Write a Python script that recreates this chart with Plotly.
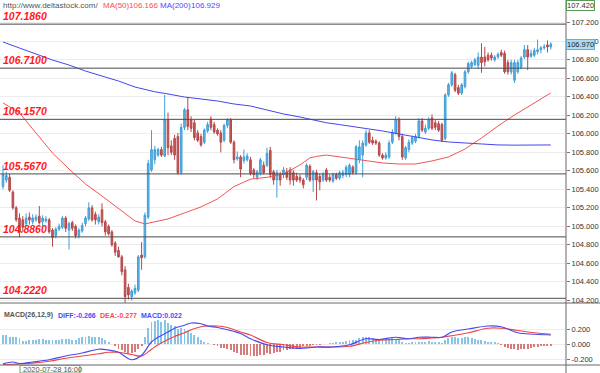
import plotly.graph_objects as go

# ---------------- data ----------------
open_ = [105.43,105.50,105.53,105.37,105.20,105.09,105.07,105.03,105.10,105.05,
         105.07,105.11,105.05,105.06,105.07,104.96,104.90,104.97,104.99,105.09,
         104.96,105.04,105.00,104.90,104.95,105.03,105.08,105.20,105.13,105.05,
         105.18,105.05,105.00,104.94,104.82,104.74,104.67,104.53,104.34,104.24,
         104.28,104.31,104.69,104.67,105.10,105.61,105.72,105.77,105.83,105.76,
         106.15,105.87,105.95,105.97,105.58,106.07,106.26,106.15,106.12,106.01,
         105.97,105.91,106.03,106.16,106.10,106.04,106.01,105.93,106.09,106.15,
         105.91,105.73,105.75,105.71,105.72,105.72,105.61,105.53,105.57,105.66,
         105.66,105.82,105.59,105.50,105.56,105.56,105.59,105.61,105.58,105.54,
         105.53,105.50,105.53,105.65,105.50,105.58,105.54,105.50,105.61,105.53,
         105.49,105.56,105.52,105.55,105.56,105.56,105.64,105.58,105.72,105.77,
         105.88,106.01,105.93,105.92,105.90,105.77,105.74,105.75,105.91,106.01,
         106.15,105.97,105.74,105.83,105.90,105.92,105.97,106.14,106.02,106.06,
         106.17,106.12,106.11,106.10,105.95,106.42,106.53,106.64,106.50,106.44,
         106.51,106.67,106.73,106.75,106.74,106.83,106.83,106.85,106.85,106.80,
         106.83,106.88,106.87,106.77,106.67,106.58,106.67,106.72,106.83,106.91,
         106.84,106.85,106.89,106.91,106.93,106.96,106.94]
high = [105.66,105.59,105.57,105.39,105.22,105.14,105.11,105.14,105.15,105.13,
        105.13,105.22,105.12,105.11,105.09,104.98,104.99,105.03,105.11,105.11,
        105.05,105.06,105.02,104.98,105.04,105.11,105.26,105.23,105.16,105.13,
        105.25,105.07,105.02,104.96,104.84,104.78,104.69,104.57,104.38,104.32,
        104.37,104.69,104.83,105.15,105.72,106.04,105.87,105.85,105.86,106.42,
        106.23,105.93,105.99,106.01,106.11,106.28,106.40,106.19,106.15,106.04,
        106.00,106.06,106.13,106.19,106.13,106.06,106.04,106.11,106.17,106.17,
        105.93,105.81,105.77,105.83,105.79,105.75,105.63,105.61,105.74,105.70,
        105.85,105.86,105.61,105.61,105.59,105.64,105.63,105.64,105.61,105.58,
        105.56,105.52,105.68,105.67,105.61,105.61,105.57,105.59,105.63,105.56,
        105.58,105.58,105.60,105.61,105.66,105.68,105.66,105.88,105.93,105.93,
        106.04,106.04,105.97,105.94,105.92,105.79,105.80,105.93,106.05,106.19,
        106.18,106.00,105.87,105.94,105.98,106.00,106.17,106.17,106.10,106.18,
        106.21,106.15,106.14,106.12,106.44,106.55,106.68,106.66,106.53,106.55,
        106.69,106.78,106.79,106.82,106.88,106.98,106.94,106.88,106.88,106.85,
        106.88,106.91,106.90,106.80,106.80,106.80,106.80,106.84,106.96,106.96,
        106.91,106.93,107.02,106.95,106.97,107.01,106.99]
low = [105.40,105.47,105.37,105.18,105.05,104.88,104.94,105.00,105.02,105.02,
       105.05,105.02,105.00,105.04,104.92,104.78,104.87,104.95,104.97,104.94,
       104.75,104.95,104.87,104.87,104.93,105.00,105.06,105.05,105.02,105.02,
       105.00,104.90,104.90,104.78,104.68,104.66,104.47,104.17,104.21,104.20,
       104.26,104.29,104.53,104.65,105.08,105.59,105.67,105.75,105.75,105.75,
       105.77,105.77,105.72,105.56,105.56,106.04,106.04,106.02,105.93,105.91,
       105.86,105.89,106.01,106.04,106.00,105.98,105.80,105.91,106.06,105.89,
       105.68,105.71,105.53,105.68,105.70,105.55,105.52,105.50,105.55,105.56,
       105.64,105.52,105.45,105.31,105.44,105.52,105.50,105.45,105.44,105.48,
       105.47,105.41,105.50,105.48,105.37,105.28,105.39,105.48,105.48,105.48,
       105.47,105.50,105.50,105.52,105.53,105.53,105.56,105.56,105.68,105.53,
       105.86,105.89,105.88,105.88,105.75,105.72,105.72,105.73,105.89,105.99,
       105.93,105.72,105.72,105.80,105.88,105.90,105.95,106.02,106.00,106.04,
       106.04,106.04,106.02,105.91,105.93,106.40,106.51,106.45,106.42,106.42,
       106.49,106.65,106.71,106.73,106.70,106.66,106.73,106.78,106.79,106.78,
       106.81,106.83,106.65,106.64,106.64,106.55,106.65,106.70,106.81,106.69,
       106.82,106.83,106.86,106.87,106.91,106.88,106.91]
close = [105.56,105.55,105.39,105.20,105.07,104.94,104.99,105.09,105.07,105.09,
         105.10,105.04,105.09,105.08,104.94,104.88,104.97,105.00,105.09,104.98,
         105.03,104.98,104.90,104.96,105.01,105.09,105.20,105.07,105.07,105.10,
         105.04,104.94,104.92,104.80,104.72,104.67,104.51,104.24,104.26,104.30,
         104.33,104.67,104.66,105.12,105.68,105.83,105.83,105.83,105.77,106.15,
         105.85,105.80,105.77,105.58,106.07,106.26,106.08,106.06,105.96,105.93,
         105.88,106.04,106.10,106.07,106.02,106.00,105.91,106.09,106.15,105.91,
         105.72,105.75,105.62,105.75,105.76,105.57,105.56,105.59,105.72,105.58,
         105.79,105.56,105.50,105.58,105.50,105.61,105.53,105.50,105.50,105.50,
         105.50,105.45,105.66,105.50,105.59,105.50,105.48,105.56,105.50,105.50,
         105.56,105.52,105.58,105.58,105.64,105.66,105.58,105.86,105.86,105.90,
         106.01,105.91,105.90,105.90,105.77,105.74,105.77,105.90,106.02,106.15,
         105.97,105.75,105.85,105.91,105.96,105.97,106.14,106.04,106.06,106.15,
         106.06,106.07,106.04,105.93,106.42,106.53,106.66,106.47,106.44,106.53,
         106.67,106.76,106.77,106.80,106.83,106.77,106.78,106.80,106.82,106.83,
         106.86,106.85,106.67,106.67,106.77,106.77,106.77,106.82,106.91,106.83,
         106.87,106.90,106.91,106.93,106.94,106.94,106.97]
bar_x = list(range(len(close)))

ma_x = [0,5,10,15,20,25,30,35,40,43,46,50,55,60,65,70,75,80,85,90,93,95,98,
        102,106,110,115,120,125,130,135,140,145,150,155,160,166]
ma50 = [106.334,106.226,106.009,105.793,105.620,105.458,105.328,105.188,105.058,
        105.026,105.047,105.080,105.145,105.210,105.296,105.430,105.510,105.530,
        105.566,105.664,105.740,105.756,105.771,105.750,105.728,105.707,105.685,
        105.674,105.674,105.707,105.750,105.836,105.955,106.085,106.204,106.312,
        106.442]
ma200 = [106.993,106.928,106.863,106.798,106.744,106.679,106.625,106.571,106.506,
         106.480,106.455,106.431,106.398,106.377,106.355,106.323,106.301,106.258,
         106.215,106.182,106.160,106.139,106.120,106.100,106.080,106.063,106.031,
         105.999,105.966,105.934,105.912,105.901,105.890,105.880,105.878,105.878,
         105.880]

macd_x = [0,3,5,9,14,19,24,29,32,35,39,42,45,47,50,52,55,57,60,62,65,68,72,75,
          80,85,90,95,100,105,110,114,119,123,126,130,133,136,141,147,151,156,161,166]
diff = [-0.266,-0.24,-0.26,-0.24,-0.21,-0.16,-0.12,-0.07,-0.08,-0.11,-0.21,-0.15,
        0.03,0.09,0.16,0.21,0.25,0.28,0.27,0.24,0.22,0.19,0.14,0.07,-0.01,-0.04,
        -0.06,-0.04,-0.04,-0.01,0.07,0.06,0.09,0.07,0.09,0.09,0.09,0.16,0.20,0.24,
        0.23,0.15,0.13,0.12]
dea = [-0.277,-0.27,-0.265,-0.255,-0.23,-0.19,-0.16,-0.13,-0.11,-0.11,-0.14,-0.16,
       -0.07,-0.01,0.06,0.10,0.15,0.19,0.23,0.24,0.24,0.22,0.16,0.12,0.02,-0.01,
       -0.04,-0.04,-0.04,-0.03,0.02,0.05,0.06,0.07,0.07,0.08,0.09,0.11,0.15,0.21,
       0.21,0.18,0.15,0.13]
hist = [0.12,0.12,0.10,0.10,0.09,0.08,0.04,0.04,0.05,0.05,
        0.06,0.07,0.07,0.06,0.06,0.05,0.06,0.06,0.07,0.07,
        0.07,0.06,0.06,0.08,0.09,0.10,0.11,0.10,0.10,0.09,
        0.08,0.06,0.03,0.00,-0.03,-0.06,-0.08,-0.11,-0.12,-0.12,
        -0.10,-0.06,-0.03,0.10,0.22,0.29,0.31,0.32,0.30,0.32,
        0.28,0.26,0.24,0.20,0.22,0.20,0.17,0.15,0.12,0.09,
        0.05,0.03,0.01,0.00,-0.01,-0.03,-0.05,-0.05,-0.06,-0.08,
        -0.11,-0.12,-0.14,-0.14,-0.14,-0.16,-0.16,-0.16,-0.14,-0.14,
        -0.12,-0.13,-0.12,-0.11,-0.10,-0.08,-0.08,-0.07,-0.07,-0.06,
        -0.05,-0.03,-0.02,-0.02,-0.01,-0.01,-0.01,0.00,0.00,0.01,
        0.01,0.02,0.03,0.03,0.04,0.05,0.05,0.06,0.08,0.10,
        0.10,0.09,0.08,0.07,0.06,0.05,0.06,0.07,0.08,0.07,
        0.05,0.02,0.01,0.01,0.02,0.02,0.03,0.03,0.03,0.04,
        0.03,0.03,0.02,0.01,0.06,0.08,0.10,0.09,0.08,0.08,
        0.09,0.09,0.08,0.07,0.06,0.05,0.04,0.03,0.03,0.02,
        0.01,-0.01,-0.04,-0.05,-0.06,-0.07,-0.08,-0.07,-0.06,-0.06,
        -0.05,-0.04,-0.04,-0.03,-0.03,-0.03,-0.02]

levels = [107.186, 106.710, 106.157, 105.567, 104.886, 104.222]
level_labels = ["107.1860", "106.7100", "106.1570", "105.5670", "104.8860", "104.2220"]

price_ticks = [104.2, 104.4, 104.6, 104.8, 105.0, 105.2, 105.4, 105.6, 105.8,
               106.0, 106.2, 106.4, 106.6, 106.8, 107.0, 107.2]
price_tick_text = ["104.200", "104.400", "104.600", "104.800", "105.000", "105.200",
                   "105.400", "105.600", "105.800", "106.000", "106.200", "106.400",
                   "106.600", "106.800", "107.000", "107.200"]
macd_ticks = [-0.2, 0.0, 0.2]
macd_tick_text = ["-0.200", "0.000", "0.200"]

header_url = "http://www.deltastock.com/"
ma50_label, ma50_value = "MA(50)", "106.166"
ma200_label, ma200_value = "MA(200)", "106.929"
macd_title = "MACD(26,12,9)"
diff_label = "DIFF:-0.266"
dea_label = "DEA:-0.277"
macd_label = "MACD:0.022"
top_price_label = "107.420"
last_price_label = "106.970"
last_price = 106.970
date_label = "2020-07-28 16:00"

# ---------------- layout helpers ----------------
PLOT_W, PLOT_H = 566.0, 365.0
def px_x(p):
    return p / PLOT_W
def px_y(p):
    return 1 - p / PLOT_H

FONT = "Liberation Sans"
UP_LINE, UP_FILL = "#3f9fd8", "#62b3e4"
DN_LINE, DN_FILL = "#b5484a", "#c85a58"

fig = go.Figure()

fig.add_trace(go.Candlestick(
    x=bar_x, open=open_, high=high, low=low, close=close,
    increasing=dict(line=dict(color=UP_LINE, width=1), fillcolor=UP_FILL),
    decreasing=dict(line=dict(color=DN_LINE, width=1), fillcolor=DN_FILL),
    whiskerwidth=0, yaxis="y", hoverinfo="skip", showlegend=False))

fig.add_trace(go.Scatter(x=ma_x, y=ma50, mode="lines", line=dict(color="#f25555", width=1),
                         yaxis="y", hoverinfo="skip", showlegend=False))
fig.add_trace(go.Scatter(x=ma_x, y=ma200, mode="lines", line=dict(color="#4646ee", width=1),
                         yaxis="y", hoverinfo="skip", showlegend=False))

hist_colors = ["#86c4e8" if v >= 0 else "#d67a7a" for v in hist]
fig.add_trace(go.Bar(x=bar_x, y=hist, width=0.3, marker=dict(color=hist_colors, line=dict(width=0)),
                     yaxis="y2", hoverinfo="skip", showlegend=False))
fig.add_trace(go.Scatter(x=macd_x, y=dea, mode="lines", line=dict(color="#f04545", width=1.2, shape="spline"),
                         yaxis="y2", hoverinfo="skip", showlegend=False))
fig.add_trace(go.Scatter(x=macd_x, y=diff, mode="lines", line=dict(color="#4a4af0", width=1.2, shape="spline"),
                         yaxis="y2", hoverinfo="skip", showlegend=False))

shapes = []
for lv in levels:
    shapes.append(dict(type="line", xref="paper", yref="y", x0=0, x1=1, y0=lv, y1=lv,
                       line=dict(color="#4a4a4a", width=1)))
# frame lines
shapes.append(dict(type="line", xref="paper", yref="paper", x0=0, x1=600 / PLOT_W,
                   y0=px_y(303), y1=px_y(303), line=dict(color="#666666", width=1)))
shapes.append(dict(type="line", xref="paper", yref="paper", x0=0, x1=600 / PLOT_W,
                   y0=px_y(365), y1=px_y(365), line=dict(color="#666666", width=1)))
shapes.append(dict(type="line", xref="paper", yref="paper", x0=1, x1=1,
                   y0=px_y(373), y1=1, line=dict(color="#666666", width=1)))
shapes.append(dict(type="rect", xref="paper", yref="paper", x0=px_x(20), x1=px_x(80),
                   y0=px_y(373), y1=px_y(365.5), line=dict(color="#6aa86a", width=1)))

annotations = []
for lv, t in zip(levels, level_labels):
    annotations.append(dict(xref="paper", yref="y", x=px_x(2), y=lv, xanchor="left", yanchor="bottom",
                            text="<b><i>" + t + "</i></b>", showarrow=False,
                            font=dict(family=FONT, size=10.5, color="#ff1a1a"), borderpad=0, yshift=1))

def txt(x, y, s, color, size=7.5, bold=False):
    annotations.append(dict(xref="paper", yref="paper", x=px_x(x), y=px_y(y), xanchor="left",
                            yanchor="middle", text=("<b>" + s + "</b>") if bold else s, showarrow=False,
                            font=dict(family=FONT, size=size, color=color), borderpad=0))

txt(2, 5, header_url, "#555555", size=8)
txt(102, 5, ma50_label, "#ff4a4a", size=8)
txt(128, 5, ma50_value, "#ff4a4a", size=8)
txt(159, 5, ma200_label, "#4a4aff", size=8)
txt(190, 5, ma200_value, "#4a4aff", size=8)
txt(3, 315, macd_title, "#555555", size=7, bold=True)
txt(57, 315, diff_label, "#4a4aff", size=7, bold=True)
txt(99, 315, dea_label, "#ff4a4a", size=7, bold=True)
txt(140, 315, macd_label, "#4a4aff", size=7, bold=True)
txt(22, 369.5, date_label, "#555555", size=7.5)

annotations.append(dict(xref="paper", yref="paper", x=px_x(566), y=px_y(0), xanchor="left", yanchor="top",
                        text=top_price_label, showarrow=False, bgcolor="#ffffff",
                        bordercolor="#5a9a5a", borderwidth=1, borderpad=0,
                        font=dict(family=FONT, size=7.5, color="#333333")))
annotations.append(dict(xref="paper", yref="y", x=px_x(566), y=last_price, xanchor="left", yanchor="middle",
                        text=last_price_label, showarrow=False, bgcolor="#a9dbf3",
                        bordercolor="#5fb0e0", borderwidth=1, borderpad=0,
                        font=dict(family=FONT, size=7.5, color="#222222")))

fig.update_layout(
    width=600, height=373,
    margin=dict(l=0, r=34, t=0, b=8, autoexpand=False),
    paper_bgcolor="white", plot_bgcolor="white",
    showlegend=False, bargap=0,
    xaxis=dict(range=[-0.909, 170.61], visible=False, rangeslider=dict(visible=False),
               fixedrange=True),
    yaxis=dict(domain=[px_y(303), px_y(2)], range=[104.1713, 107.4254], side="right",
               tickvals=price_ticks, ticktext=price_tick_text, ticks="outside", ticklen=3,
               tickcolor="#777777", showgrid=True, gridcolor="#ededed", zeroline=False,
               tickfont=dict(family=FONT, size=7.5, color="#333333"), showline=False),
    yaxis2=dict(domain=[0, px_y(305)], range=[-0.28, 0.52], side="right",
                tickvals=macd_ticks, ticktext=macd_tick_text, ticks="outside", ticklen=3,
                tickcolor="#777777", showgrid=True, gridcolor="#ededed", zeroline=False,
                tickfont=dict(family=FONT, size=7.5, color="#333333"), showline=False,
                anchor="x"),
    shapes=shapes, annotations=annotations,
)

fig.write_html("out.html", config={"displayModeBar": False},
               post_script="document.body.style.margin='0';document.body.style.overflow='hidden';")
